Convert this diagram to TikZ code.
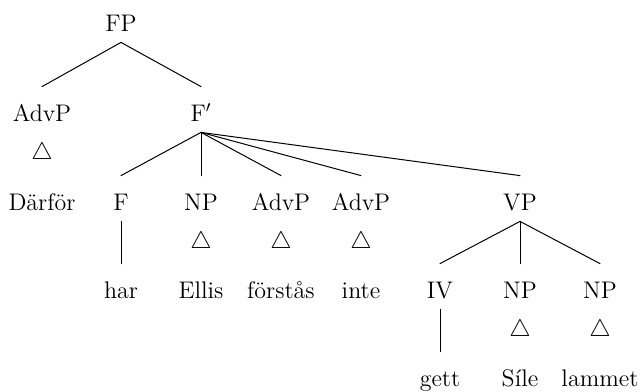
\documentclass[tikz,border=0pt]{standalone}
\usepackage{fontspec}
\usepackage{tikz}
\tikzset{
  cat/.style={anchor=base, inner sep=0pt, text height=17pt, text depth=5.5pt},
  tri/.style={anchor=base, inner sep=0pt},
  branch/.style={line width=0.5pt, line cap=round}
}

\begin{document}
\begin{tikzpicture}[x=0.5pt, y=-0.5pt, font=\fontsize{12}{14}\selectfont]
  \useasboundingbox (0,0) rectangle (641,391);

  % root and its two daughters
  \node[cat] (FP) at (121,31) {FP};
  \node[cat] (AdvPa) at (42,121) {AdvP};
  \node[cat] (Fbar) at (201,121) {F$'$};
  \node[tri] (triA) at (42,159) {$\bigtriangleup$};

  % third row
  \node[cat] (Darfor) at (42,210) {Därför};
  \node[cat] (F) at (121,210) {F};
  \node[cat] (NPa) at (201,210) {NP};
  \node[cat] (AdvPb) at (281,210) {AdvP};
  \node[cat] (AdvPc) at (361,210) {AdvP};
  \node[cat] (VP) at (520,210) {VP};
  \node[tri] (triB) at (201,248) {$\bigtriangleup$};
  \node[tri] (triC) at (281,248) {$\bigtriangleup$};
  \node[tri] (triD) at (361,248) {$\bigtriangleup$};

  % fourth row
  \node[cat] (har) at (121,298) {har};
  \node[cat] (Ellis) at (201,298) {Ellis};
  \node[cat] (forstas) at (281,298) {förstås};
  \node[cat] (inte) at (361,298) {inte};
  \node[cat] (IV) at (440,298) {IV};
  \node[cat] (NPb) at (520,298) {NP};
  \node[cat] (NPc) at (600,298) {NP};
  \node[tri] (triE) at (520,336) {$\bigtriangleup$};
  \node[tri] (triF) at (600,336) {$\bigtriangleup$};

  % bottom row
  \node[cat] (gett) at (440,386) {gett};
  \node[cat] (Sile) at (520,386) {Síle};
  \node[cat] (lammet) at (600,386) {lammet};

  % branches
  \draw[branch] (FP.south) -- (AdvPa.north);
  \draw[branch] (FP.south) -- (Fbar.north);
  \draw[branch] (Fbar.south) -- (F.north);
  \draw[branch] (Fbar.south) -- (NPa.north);
  \draw[branch] (Fbar.south) -- (AdvPb.north);
  \draw[branch] (Fbar.south) -- (AdvPc.north);
  \draw[branch] (Fbar.south) -- (VP.north);
  \draw[branch] (F.south) -- (har.north);
  \draw[branch] (VP.south) -- (IV.north);
  \draw[branch] (VP.south) -- (NPb.north);
  \draw[branch] (VP.south) -- (NPc.north);
  \draw[branch] (IV.south) -- (gett.north);

\end{tikzpicture}
\end{document}
